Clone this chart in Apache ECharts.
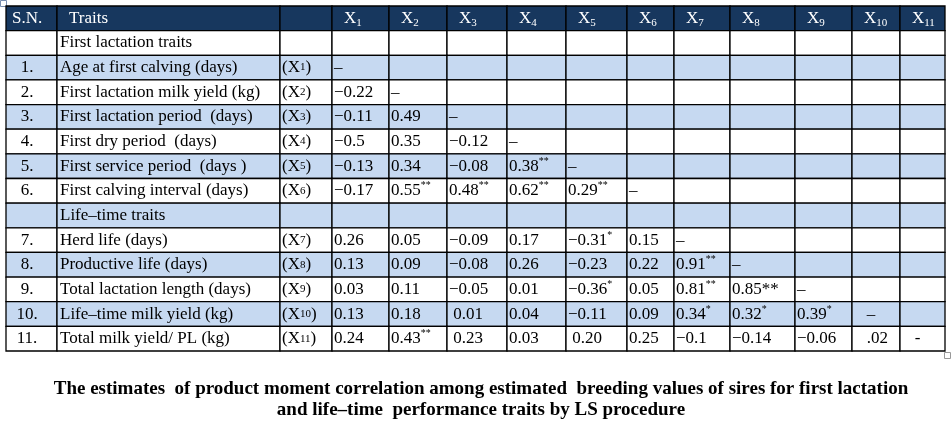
<!DOCTYPE html>
<html>
<head>
<meta charset="utf-8">
<style>
    html, body { margin: 0; padding: 0; background: #fff; }
    #main { width: 952px; height: 426px; }
</style>
</head>
<body>
<div id="main"></div>
<script src="https://cdn.jsdelivr.net/npm/echarts@6/dist/echarts.min.js"></script>
<script>
    // table content
    var headers = ['S.N.', 'Traits', '', 'X1', 'X2', 'X3', 'X4', 'X5', 'X6', 'X7', 'X8', 'X9', 'X10', 'X11'];
    var sn = ['', '1.', '2.', '3.', '4.', '5.', '6.', '', '7.', '8.', '9.', '10.', '11.'];
    var traits = [
        'First lactation traits',
        'Age at first calving (days)',
        'First lactation milk yield (kg)',
        'First lactation period  (days)',
        'First dry period  (days)',
        'First service period  (days )',
        'First calving interval (days)',
        'Life–time traits',
        'Herd life (days)',
        'Productive life (days)',
        'Total lactation length (days)',
        'Life–time milk yield (kg)',
        'Total milk yield/ PL (kg)'
    ];
    var codes = ['', 'X1', 'X2', 'X3', 'X4', 'X5', 'X6', '', 'X7', 'X8', 'X9', 'X10', 'X11'];
    // '^' marks the start of a superscript significance mark
    var corr = [
        [],
        ['–'],
        ['−0.22', '–'],
        ['−0.11', '0.49', '–'],
        ['−0.5', '0.35', '−0.12', '–'],
        ['−0.13', '0.34', '−0.08', '0.38^**', '–'],
        ['−0.17', '0.55^**', '0.48^**', '0.62^**', '0.29^**', '–'],
        [],
        ['0.26', '0.05', '−0.09', '0.17', '−0.31^*', '0.15', '–'],
        ['0.13', '0.09', '−0.08', '0.26', '−0.23', '0.22', '0.91^**', '–'],
        ['0.03', '0.11', '−0.05', '0.01', '−0.36^*', '0.05', '0.81^**', '0.85**', '–'],
        ['0.13', '0.18', ' 0.01', '0.04', '−0.11', '0.09', '0.34^*', '0.32^*', '0.39^*', '   –'],
        ['0.24', '0.43^**', ' 0.23', '0.03', ' 0.20', '0.25', '−0.1', '−0.14', '−0.06', '   .02', '   -']
    ];
    var caption = 'The estimates  of product moment correlation among estimated  breeding values of sires for first lactation\nand life–time  performance traits by LS procedure';

    // layout: column edges in px
    var colEdges = [6, 57, 280, 332, 389, 447, 507, 566, 627, 674, 730, 795, 852, 900, 945];
    var nRows = traits.length + 1;
    var FONT = 'Liberation Serif';

    function codeText(c) {
        if (!c) return '';
        return '(X{s|' + c.slice(1) + '})';
    }
    function headText(h) {
        if (/^X\d+$/.test(h)) return 'X{sub|' + h.slice(1) + '}';
        return h;
    }
    function valText(v) {
        var i = v.indexOf('^');
        if (i < 0) return v;
        return v.slice(0, i) + '{sup|' + v.slice(i + 1) + '}';
    }

    var cells = [];
    headers.forEach(function (h, c) {
        cells.push([c, 0, headText(h)]);
    });
    traits.forEach(function (t, r) {
        var row = r + 1;
        cells.push([0, row, sn[r]]);
        cells.push([1, row, t]);
        cells.push([2, row, codeText(codes[r])]);
        for (var c = 0; c < 11; c++) {
            cells.push([c + 3, row, corr[r][c] ? valText(corr[r][c]) : '']);
        }
    });

    var rich = {
        s: { fontSize: 11, fontFamily: FONT, lineHeight: 20 },
        sub: { fontSize: 11, fontFamily: FONT, verticalAlign: 'bottom', lineHeight: 15, padding: [9, 0, 0, 0] },
        sup: { fontSize: 10, fontFamily: FONT, verticalAlign: 'top', lineHeight: 20, padding: [0, 0, 7, 0] }
    };

    var myChart = echarts.init(document.getElementById('main'));
    var option = {
        animation: false,
        title: {
            text: caption,
            left: 476,
            top: 374,
            textAlign: 'center',
            textStyle: {
                fontFamily: FONT,
                fontWeight: 'bold',
                fontSize: 19,
                lineHeight: 21,
                color: '#000'
            }
        },
        grid: { left: 6, right: 952 - 945, top: 6, bottom: 426 - 351 },
        xAxis: { type: 'value', min: 6, max: 945, show: false },
        yAxis: { type: 'value', min: 0, max: nRows, inverse: true, show: false },
        series: [{
            type: 'custom',
            coordinateSystem: 'cartesian2d',
            data: cells,
            renderItem: function (params, api) {
                var c = api.value(0), r = api.value(1);
                var p0 = api.coord([colEdges[c], r]);
                var p1 = api.coord([colEdges[c + 1], r + 1]);
                var txt = cells[params.dataIndex][2];
                var fill = r === 0 ? '#17375e' : (r % 2 === 0 ? '#c6d9f1' : '#ffffff');
                var color = r === 0 ? '#ffffff' : '#000000';
                var tx, align = 'left';
                if (r === 0) {
                    tx = p0[0] + (c === 0 ? 6 : 12);
                } else if (c === 0) {
                    tx = p0[0] + 21; align = 'center';
                } else {
                    tx = p0[0] + (c === 1 ? 3 : 2);
                }
                return {
                    type: 'group',
                    children: [{
                        type: 'rect',
                        shape: { x: p0[0], y: p0[1], width: p1[0] - p0[0], height: p1[1] - p0[1] },
                        style: { fill: fill, stroke: '#000', lineWidth: 1.3 }
                    }, {
                        type: 'text',
                        style: {
                            x: tx,
                            y: (p0[1] + p1[1]) / 2,
                            text: txt,
                            fill: color,
                            align: align,
                            verticalAlign: 'middle',
                            fontFamily: FONT,
                            fontSize: 17,
                            lineHeight: 20,
                            rich: rich
                        }
                    }]
                };
            }
        }],
        graphic: [
            { type: 'rect', left: 944, top: 352, shape: { width: 6, height: 6 }, style: { fill: '#fff', stroke: '#999', lineWidth: 1 } },
            { type: 'rect', left: 0, top: 0, shape: { width: 6, height: 6 }, style: { fill: '#fff', stroke: '#7a8fb0', lineWidth: 1 } }
        ]
    };
    myChart.setOption(option);
</script>
</body>
</html>
